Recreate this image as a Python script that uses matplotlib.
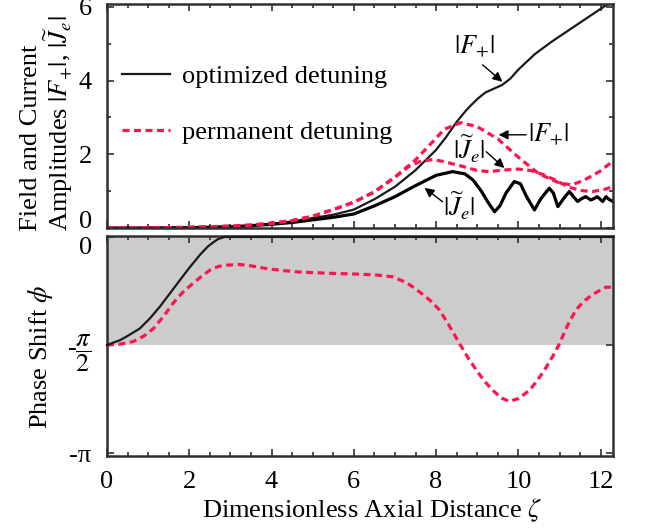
import matplotlib
matplotlib.use("Agg")
import matplotlib.pyplot as plt
import numpy as np

plt.rcParams["font.family"] = ["Liberation Serif", "DejaVu Serif"]
plt.rcParams["mathtext.fontset"] = "stix"
plt.rcParams["font.size"] = 19

# amplitudes, optimized detuning
z_F_opt = [0, 1, 2, 3, 3.5, 4, 4.5, 5, 5.5, 6, 6.5, 7, 7.5, 8, 8.25, 8.5, 8.75,
           9, 9.2, 9.4, 9.6, 9.8, 10, 10.4, 10.8, 11.2, 11.6, 12, 12.3]
F_opt = [0, 0, 0.01, 0.04, 0.06, 0.11, 0.18, 0.27, 0.36, 0.5, 0.78, 1.12, 1.57,
         2.12, 2.48, 2.88, 3.22, 3.5, 3.68, 3.78, 3.88, 4.05, 4.3, 4.72, 5.05,
         5.35, 5.65, 5.95, 6.17]
z_J_opt = [0, 1, 2, 3, 4, 4.5, 5, 5.5, 6, 6.5, 7, 7.5, 8, 8.4, 8.7, 8.9, 9.1,
           9.25, 9.42, 9.55, 9.7, 9.9, 10.05, 10.2, 10.39, 10.55, 10.75, 10.85,
           10.96, 11.1, 11.24, 11.34, 11.44, 11.54, 11.64, 11.76, 11.84, 11.92,
           12.05, 12.13, 12.2, 12.3]
J_opt = [0, 0, 0.01, 0.03, 0.1, 0.15, 0.22, 0.29, 0.38, 0.6, 0.85, 1.15, 1.43,
         1.53, 1.47, 1.3, 1.0, 0.72, 0.44, 0.6, 0.95, 1.26, 1.2, 0.85, 0.49, 0.8,
         1.08, 0.95, 0.58, 0.8, 0.99, 0.85, 0.72, 0.8, 0.85, 0.76, 0.8, 0.85,
         0.72, 0.85, 0.78, 0.72]

# amplitudes, permanent detuning
z_F_perm = [0, 1, 2, 3, 3.5, 4, 4.5, 5, 5.5, 6, 6.5, 7, 7.5, 7.8, 8.2, 8.6, 9.0,
            9.5, 10, 10.5, 11, 11.3, 11.6, 12, 12.3]
F_perm = [0, 0, 0.02, 0.05, 0.08, 0.13, 0.2, 0.32, 0.5, 0.7, 0.98, 1.38, 1.85,
          2.2, 2.68, 2.86, 2.75, 2.42, 1.92, 1.47, 1.22, 1.17, 1.3, 1.55, 1.82]
z_J_perm = [0, 1, 2, 3, 3.5, 4, 4.5, 5, 5.5, 6, 6.5, 7, 7.35, 7.6, 7.92, 8.2,
            8.65, 9.0, 9.3, 9.6, 10, 10.3, 10.6, 10.9, 11.2, 11.5, 11.8, 12.1, 12.3]
J_perm = [0, 0, 0.02, 0.05, 0.08, 0.13, 0.2, 0.32, 0.5, 0.7, 0.98, 1.38, 1.68,
          1.8, 1.86, 1.8, 1.67, 1.56, 1.53, 1.57, 1.6, 1.56, 1.45, 1.3, 1.12,
          1.02, 0.99, 1.05, 1.12]

# phase shift
z_ph_opt = [0, 0.32, 0.5, 0.8, 1.05, 1.29, 1.53, 1.77, 2.0, 2.26, 2.45, 2.58,
            2.7, 2.86, 4, 6, 8, 10, 12.3]
ph_opt = [-1.571, -1.5, -1.44, -1.33, -1.18, -1.01, -0.82, -0.63, -0.45, -0.26,
          -0.14, -0.08, -0.03, 0, 0, 0, 0, 0, 0]
z_ph_perm = [0, 0.3, 0.64, 0.9, 1.13, 1.37, 1.61, 1.85, 2.1, 2.3, 2.51, 2.7,
             2.91, 3.23, 3.5, 3.88, 4.3, 4.68, 5.1, 5.49, 6.06, 6.5, 6.95, 7.3,
             7.6, 7.85, 8.08, 8.3, 8.57, 8.77, 8.97, 9.18, 9.38, 9.58, 9.78, 10.0,
             10.27, 10.47, 10.67, 10.85, 11.0, 11.2, 11.4, 11.6, 11.8, 12.0,
             12.13, 12.3]
ph_perm = [-1.571, -1.56, -1.52, -1.44, -1.33, -1.16, -0.96, -0.8, -0.67, -0.57,
           -0.48, -0.43, -0.41, -0.4, -0.42, -0.46, -0.49, -0.51, -0.52, -0.53,
           -0.54, -0.55, -0.58, -0.67, -0.8, -0.92, -1.06, -1.27, -1.55, -1.75,
           -1.93, -2.1, -2.23, -2.34, -2.39, -2.35, -2.23, -2.08, -1.9, -1.72,
           -1.55, -1.28, -1.06, -0.93, -0.84, -0.77, -0.73, -0.73]

red = "#ff1450"
dash = (0, (2.2, 1.4))
spine_c = "#303030"

fig = plt.figure(figsize=(6.46, 5.29), dpi=100)
ax1 = fig.add_axes([0.1656, 0.569, 0.7833, 0.4234])
ax2 = fig.add_axes([0.1656, 0.138, 0.7833, 0.416])

ax1.plot(z_F_opt, F_opt, color="#1a1a1a", lw=1.6, label="optimized detuning")
ax1.plot(z_J_opt, J_opt, color="black", lw=2.3)
ax1.plot(z_F_perm, F_perm, color=red, lw=2.3, linestyle=dash, label="permanent detuning")
ax1.plot(z_J_perm, J_perm, color=red, lw=2.3, linestyle=dash)
ax1.set_xlim(0, 12.3)
ax1.set_ylim(0, 6.08)
ax1.set_yticks([0, 2, 4, 6])
ax1.set_yticks([1, 3, 5], minor=True)
ax1.get_yticklabels()[0].set_va("baseline")
ax1.set_ylabel("Field and Current\nAmplitudes $|F_{+}|$, $|\\widetilde{J}_e|$",
               multialignment="left", linespacing=0.95)
ax1.yaxis.set_label_coords(-0.064, 0.467)
ax1.legend(loc="upper left", bbox_to_anchor=(0.03, 0.73), frameon=False,
           borderpad=0, borderaxespad=0, labelspacing=1.25, handlelength=1.8,
           handletextpad=0.45)

arrow = dict(arrowstyle="-|>", color="black", lw=1.0, mutation_scale=14,
             shrinkA=0, shrinkB=0)
ax1.text(8.93, 4.92, "$|F_{+}|$", ha="center", va="center")
ax1.annotate("", xy=(9.61, 3.97), xytext=(9.13, 4.43), arrowprops=arrow)
ax1.text(10.72, 2.53, "$|F_{+}|$", ha="center", va="center")
ax1.annotate("", xy=(9.52, 2.53), xytext=(10.19, 2.53), arrowprops=arrow)
ax1.text(8.8, 2.15, "$|\\widetilde{J}_e|$", ha="center", va="center")
ax1.annotate("", xy=(9.66, 1.63), xytext=(9.22, 2.07), arrowprops=arrow)
ax1.text(8.57, 0.6, "$|\\widetilde{J}_e|$", ha="center", va="center")
ax1.annotate("", xy=(7.72, 1.09), xytext=(8.16, 0.71), arrowprops=arrow)

ax2.axhspan(-np.pi / 2, 0.02, color="#cccccc", lw=0, zorder=0)
ax2.plot(z_ph_opt, ph_opt, color="#1a1a1a", lw=1.6, clip_on=False, zorder=3)
ax2.plot(z_ph_perm, ph_perm, color=red, lw=2.3, linestyle=dash)
ax2.set_xlim(0, 12.3)
ax2.set_ylim(-3.185, 0.015)
ax2.set_yticks([0, -np.pi / 2, -np.pi], ["0", "-$\\dfrac{\\pi}{2}$", "-π"])
ax2.get_yticklabels()[0].set_va("top")
ax2.set_ylabel("Phase Shift $\\phi$")
ax2.yaxis.set_label_coords(-0.103, 0.45)
ax2.set_xlabel("Dimensionless Axial Distance $\\zeta$")
ax2.xaxis.set_label_coords(0.524, -0.186)

for ax in (ax1, ax2):
    ax.set_xticks(np.arange(0, 13, 2))
    ax.set_xticks(np.arange(0.5, 12.5, 0.5), minor=True)
    ax.tick_params(which="both", direction="in", top=True, right=True,
                   color=spine_c, width=1.2)
    ax.tick_params(which="major", length=5, pad=11)
    ax.tick_params(which="minor", length=3)
    for s in ax.spines.values():
        s.set_linewidth(1.8)
        s.set_color(spine_c)
ax1.tick_params(labelbottom=False)

fig.savefig("out.png", dpi=100)
